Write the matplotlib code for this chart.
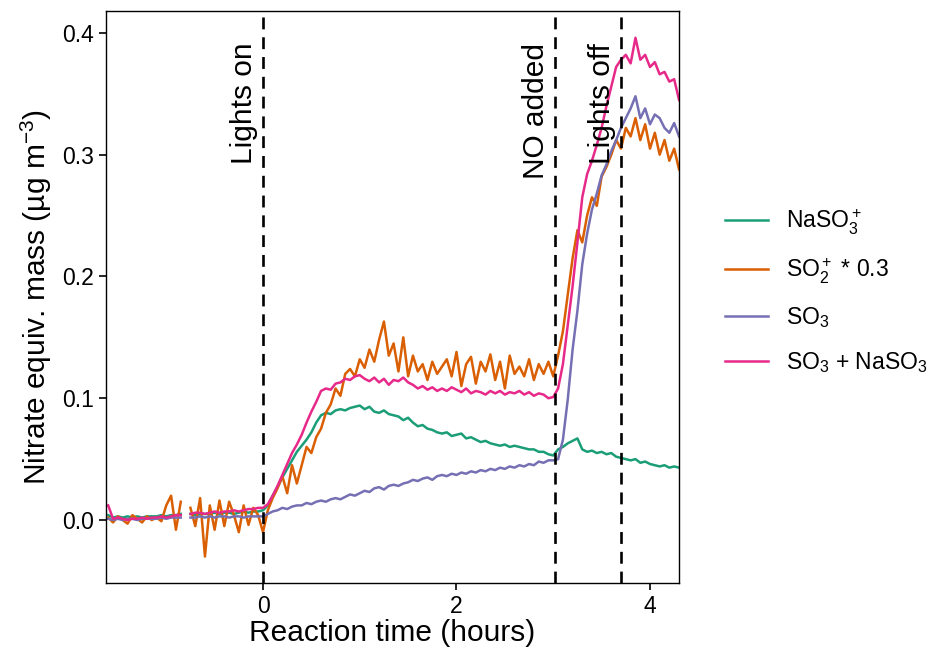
import numpy as np
import matplotlib
matplotlib.use("Agg")
import matplotlib.pyplot as plt

plt.rcParams["font.family"] = ["Liberation Sans", "DejaVu Sans"]
plt.rcParams["mathtext.fontset"] = "custom"
plt.rcParams["mathtext.rm"] = "Liberation Sans"
plt.rcParams["mathtext.it"] = "Liberation Sans"
plt.rcParams["mathtext.default"] = "rm"

nan = float("nan")

# sampling grid, hours relative to lights on
t_hours = np.round(np.arange(-1.60, 4.301, 0.05), 2)

naso3 = [
    0.004, 0.002, 0.003, 0.002, 0.003, 0.002, 0.003, 0.002, 0.003, 0.003,
    0.003, 0.004, 0.003, 0.004, 0.004, 0.005, nan, 0.005, 0.004, 0.005,
    0.005, 0.005, 0.006, 0.005, 0.006, 0.006, 0.005, 0.006, 0.007, 0.006,
    0.007, 0.007, 0.008, 0.012, 0.020, 0.027, 0.035, 0.042, 0.049, 0.056,
    0.061, 0.066, 0.072, 0.080, 0.086, 0.088, 0.087, 0.090, 0.091, 0.090,
    0.092, 0.093, 0.094, 0.091, 0.093, 0.089, 0.088, 0.090, 0.087, 0.086,
    0.085, 0.082, 0.084, 0.080, 0.077, 0.078, 0.075, 0.074, 0.072, 0.071,
    0.072, 0.069, 0.070, 0.071, 0.067, 0.068, 0.066, 0.064, 0.065, 0.063,
    0.062, 0.061, 0.062, 0.060, 0.061, 0.060, 0.059, 0.058, 0.058, 0.056,
    0.056, 0.054, 0.053, 0.058, 0.060, 0.063, 0.065, 0.067, 0.058, 0.056,
    0.057, 0.055, 0.056, 0.054, 0.055, 0.052, 0.051, 0.050, 0.049, 0.050,
    0.047, 0.048, 0.046, 0.045, 0.044, 0.045, 0.043, 0.044, 0.043,
]

so2 = [
    0.002, -0.002, 0.003, 0.000, -0.003, 0.004, 0.001, -0.002, 0.003, 0.000,
    0.002, -0.001, 0.012, 0.020, -0.008, 0.015, nan, 0.010, -0.005, 0.018,
    -0.030, 0.012, -0.008, 0.016, -0.005, 0.015, 0.004, -0.010, 0.012, -0.004,
    0.010, 0.004, -0.010, 0.008, 0.018, 0.026, 0.036, 0.022, 0.045, 0.030,
    0.045, 0.060, 0.055, 0.068, 0.075, 0.088, 0.095, 0.108, 0.102, 0.120,
    0.124, 0.118, 0.132, 0.125, 0.140, 0.130, 0.148, 0.163, 0.135, 0.145,
    0.122, 0.150, 0.118, 0.135, 0.122, 0.128, 0.115, 0.130, 0.120, 0.126,
    0.132, 0.118, 0.138, 0.110, 0.128, 0.134, 0.112, 0.130, 0.122, 0.136,
    0.115, 0.130, 0.108, 0.135, 0.120, 0.126, 0.118, 0.132, 0.115, 0.128,
    0.120, 0.130, 0.118, 0.135, 0.155, 0.185, 0.215, 0.238, 0.228, 0.250,
    0.265, 0.258, 0.282, 0.290, 0.300, 0.312, 0.305, 0.322, 0.315, 0.330,
    0.312, 0.325, 0.305, 0.318, 0.300, 0.312, 0.295, 0.305, 0.288,
]

so3 = [
    0.001, 0.000, 0.001, 0.000, 0.001, 0.001, 0.000, 0.001, 0.001, 0.001,
    0.001, 0.002, 0.001, 0.002, 0.002, 0.002, nan, 0.002, 0.002, 0.003,
    0.002, 0.003, 0.002, 0.003, 0.003, 0.002, 0.003, 0.003, 0.002, 0.003,
    0.003, 0.003, 0.003, 0.005, 0.007, 0.008, 0.010, 0.009, 0.011, 0.012,
    0.012, 0.014, 0.013, 0.015, 0.016, 0.015, 0.017, 0.018, 0.017, 0.019,
    0.021, 0.020, 0.022, 0.024, 0.023, 0.026, 0.027, 0.025, 0.028, 0.029,
    0.028, 0.030, 0.031, 0.033, 0.032, 0.034, 0.035, 0.033, 0.036, 0.037,
    0.036, 0.038, 0.037, 0.039, 0.038, 0.040, 0.039, 0.041, 0.040, 0.042,
    0.041, 0.043, 0.042, 0.044, 0.043, 0.045, 0.044, 0.046, 0.045, 0.048,
    0.047, 0.049, 0.049, 0.050, 0.066, 0.099, 0.140, 0.172, 0.210, 0.235,
    0.255, 0.268, 0.283, 0.292, 0.303, 0.312, 0.322, 0.330, 0.338, 0.348,
    0.330, 0.338, 0.325, 0.333, 0.330, 0.322, 0.318, 0.326, 0.315,
]

so3_naso3 = [
    0.012, 0.001, 0.002, 0.001, 0.000, 0.001, 0.001, 0.002, 0.001, 0.002,
    0.002, 0.003, 0.002, 0.003, 0.004, 0.004, nan, 0.005, 0.006, 0.006,
    0.005, 0.006, 0.007, 0.006, 0.007, 0.007, 0.008, 0.007, 0.008, 0.009,
    0.009, 0.010, 0.010, 0.013, 0.020, 0.028, 0.037, 0.046, 0.055, 0.062,
    0.070, 0.080, 0.089, 0.097, 0.106, 0.108, 0.107, 0.112, 0.113, 0.116,
    0.115, 0.118, 0.119, 0.116, 0.114, 0.117, 0.113, 0.116, 0.111, 0.115,
    0.114, 0.117, 0.113, 0.111, 0.108, 0.110, 0.107, 0.109, 0.106, 0.108,
    0.106, 0.109, 0.107, 0.105, 0.108, 0.104, 0.106, 0.105, 0.103, 0.106,
    0.104, 0.106, 0.103, 0.105, 0.104, 0.106, 0.103, 0.105, 0.102, 0.104,
    0.103, 0.100, 0.101, 0.108, 0.128, 0.160, 0.192, 0.228, 0.265, 0.284,
    0.295, 0.308, 0.322, 0.340, 0.356, 0.372, 0.378, 0.382, 0.375, 0.396,
    0.378, 0.382, 0.372, 0.376, 0.366, 0.368, 0.360, 0.362, 0.345,
]

series = [
    ("NaSO$_3^+$", naso3, "#1B9E77"),
    ("SO$_2^+$ * 0.3", so2, "#D95F02"),
    ("SO$_3$", so3, "#7570B3"),
    ("SO$_3$ + NaSO$_3$", so3_naso3, "#E7298A"),
]

events = [(0.0, "Lights on"), (3.02, "NO added"), (3.70, "Lights off")]

fig = plt.figure(figsize=(9.28, 6.51), dpi=100)
ax = fig.add_axes([0.1142, 0.1045, 0.6175, 0.8786])

for label, vals, col in series:
    ax.plot(t_hours, vals, color=col, lw=1.8, label=label)

for x, txt in events:
    ax.axvline(x, color="black", lw=1.9, linestyle=(0, (4.5, 3)))
    ax.text(x - 0.05, 0.392, txt, rotation=90, ha="right", va="top", fontsize=21.5)

ax.set_xlim(-1.623, 4.30)
ax.set_ylim(-0.0517, 0.418)
ax.set_xticks([0, 2, 4])
ax.set_yticks([0.0, 0.1, 0.2, 0.3, 0.4])
ax.set_yticklabels(["0.0", "0.1", "0.2", "0.3", "0.4"])
ax.tick_params(labelsize=16.5, length=5, width=1.2, colors="black")
for s in ax.spines.values():
    s.set_linewidth(1.0)
ax.set_xlabel("Reaction time (hours)", fontsize=21.5, labelpad=1)
ax.set_ylabel("Nitrate equiv. mass (µg m$^{-3}$)", fontsize=21.5, labelpad=6)

ax.legend(loc="center left", bbox_to_anchor=(0.7585, 0.553), bbox_transform=fig.transFigure,
          frameon=False, fontsize=16.5, handlelength=1.88, handletextpad=0.79,
          labelspacing=0.85)

fig.savefig("out.png", dpi=100)
